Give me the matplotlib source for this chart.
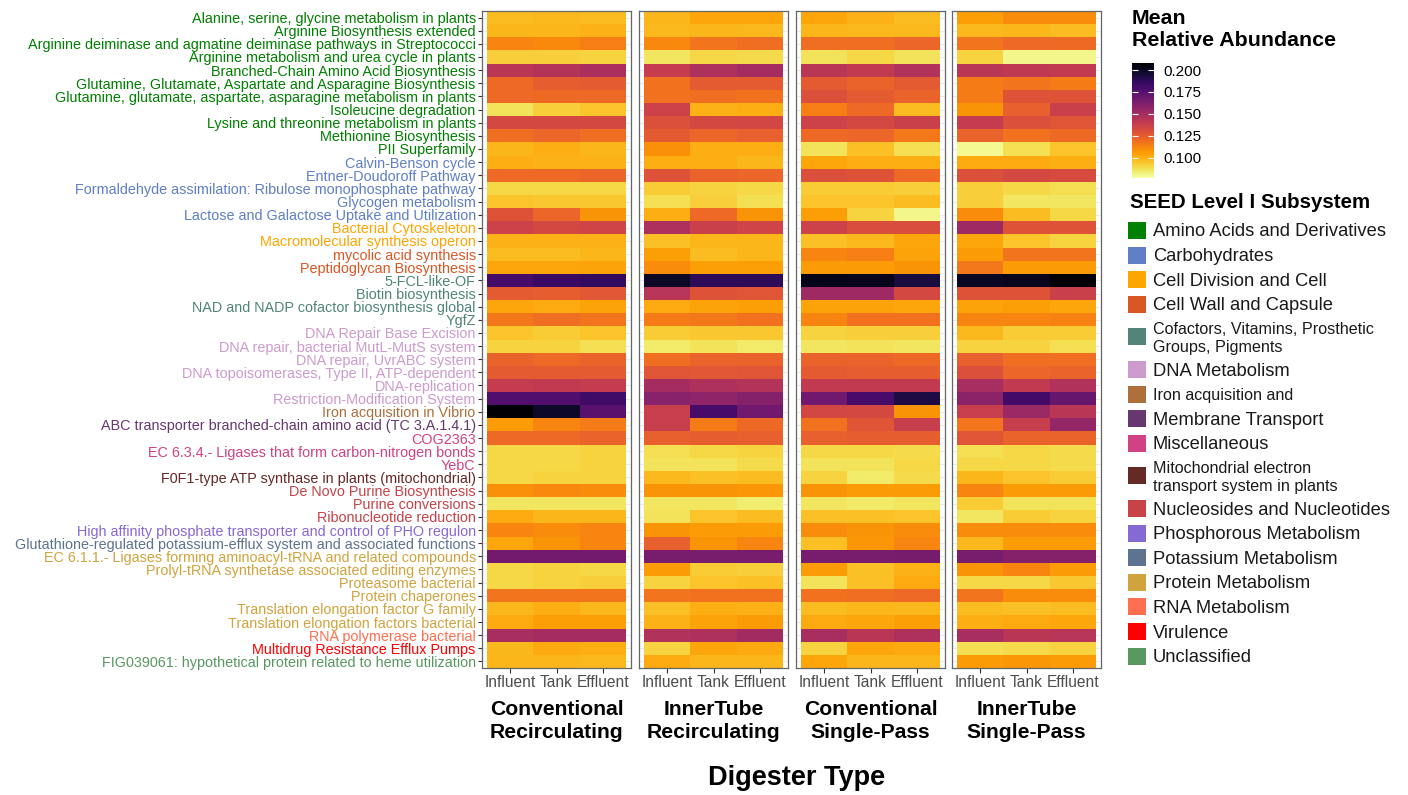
import numpy as np
import matplotlib.pyplot as plt
from matplotlib.patches import Rectangle

plt.rcParams['font.family'] = ['Liberation Sans', 'DejaVu Sans']

# SEED level III pathways, top to bottom
pathways = [
    "Alanine, serine, glycine metabolism in plants",
    "Arginine Biosynthesis extended",
    "Arginine deiminase and agmatine deiminase pathways in Streptococci",
    "Arginine metabolism and urea cycle in plants",
    "Branched-Chain Amino Acid Biosynthesis",
    "Glutamine, Glutamate, Aspartate and Asparagine Biosynthesis",
    "Glutamine, glutamate, aspartate, asparagine metabolism in plants",
    "Isoleucine degradation",
    "Lysine and threonine metabolism in plants",
    "Methionine Biosynthesis",
    "PII Superfamily",
    "Calvin-Benson cycle",
    "Entner-Doudoroff Pathway",
    "Formaldehyde assimilation: Ribulose monophosphate pathway",
    "Glycogen metabolism",
    "Lactose and Galactose Uptake and Utilization",
    "Bacterial Cytoskeleton",
    "Macromolecular synthesis operon",
    "mycolic acid synthesis",
    "Peptidoglycan Biosynthesis",
    "5-FCL-like-OF",
    "Biotin biosynthesis",
    "NAD and NADP cofactor biosynthesis global",
    "YgfZ",
    "DNA Repair Base Excision",
    "DNA repair, bacterial MutL-MutS system",
    "DNA repair, UvrABC system",
    "DNA topoisomerases, Type II, ATP-dependent",
    "DNA-replication",
    "Restriction-Modification System",
    "Iron acquisition in Vibrio",
    "ABC transporter branched-chain amino acid (TC 3.A.1.4.1)",
    "COG2363",
    "EC 6.3.4.- Ligases that form carbon-nitrogen bonds",
    "YebC",
    "F0F1-type ATP synthase in plants (mitochondrial)",
    "De Novo Purine Biosynthesis",
    "Purine conversions",
    "Ribonucleotide reduction",
    "High affinity phosphate transporter and control of PHO regulon",
    "Glutathione-regulated potassium-efflux system and associated functions",
    "EC 6.1.1.- Ligases forming aminoacyl-tRNA and related compounds",
    "Prolyl-tRNA synthetase associated editing enzymes",
    "Proteasome bacterial",
    "Protein chaperones",
    "Translation elongation factor G family",
    "Translation elongation factors bacterial",
    "RNA polymerase bacterial",
    "Multidrug Resistance Efflux Pumps",
    "FIG039061: hypothetical protein related to heme utilization",
]

# level I subsystem of each pathway
pathway_subsystem = (
    ["Amino Acids and Derivatives"] * 11
    + ["Carbohydrates"] * 5
    + ["Cell Division and Cell Cycle"] * 2
    + ["Cell Wall and Capsule"] * 2
    + ["Cofactors"] * 4
    + ["DNA Metabolism"] * 6
    + ["Iron acquisition and metabolism"]
    + ["Membrane Transport"]
    + ["Miscellaneous"] * 3
    + ["Mitochondrial electron transport"]
    + ["Nucleosides and Nucleotides"] * 3
    + ["Phosphorous Metabolism"]
    + ["Potassium Metabolism"]
    + ["Protein Metabolism"] * 6
    + ["RNA Metabolism"]
    + ["Virulence"]
    + ["Unclassified"]
)

subsystems = [
    "Amino Acids and Derivatives", "Carbohydrates", "Cell Division and Cell Cycle",
    "Cell Wall and Capsule", "Cofactors", "DNA Metabolism",
    "Iron acquisition and metabolism", "Membrane Transport", "Miscellaneous",
    "Mitochondrial electron transport", "Nucleosides and Nucleotides",
    "Phosphorous Metabolism", "Potassium Metabolism", "Protein Metabolism",
    "RNA Metabolism", "Virulence", "Unclassified",
]
subsystem_labels = [
    "Amino Acids and Derivatives", "Carbohydrates", "Cell Division and Cell",
    "Cell Wall and Capsule", "Cofactors, Vitamins, Prosthetic\nGroups, Pigments",
    "DNA Metabolism", "Iron acquisition and", "Membrane Transport", "Miscellaneous",
    "Mitochondrial electron\ntransport system in plants", "Nucleosides and Nucleotides",
    "Phosphorous Metabolism", "Potassium Metabolism", "Protein Metabolism",
    "RNA Metabolism", "Virulence", "Unclassified",
]
subsystem_colors = [
    "#008000", "#5F7FC7", "#FFA500", "#DA5724", "#508578", "#CD9BCD",
    "#AD6F3B", "#673770", "#D14285", "#652926", "#C84248", "#8569D5",
    "#5E738F", "#D1A33D", "#FF6F4F", "#FF0000", "#599861",
]

sites = ["Influent", "Tank", "Effluent"]
digesters = ["Conventional\nRecirculating", "InnerTube\nRecirculating",
             "Conventional\nSingle-Pass", "InnerTube\nSingle-Pass"]

# mean relative abundance per pathway: (Influent, Tank, Effluent)
conv_recirc = [
    (0.097, 0.098, 0.097), (0.099, 0.099, 0.100), (0.112, 0.111, 0.114), (0.092, 0.092, 0.091),
    (0.143, 0.145, 0.148), (0.121, 0.125, 0.126), (0.121, 0.120, 0.121), (0.087, 0.092, 0.095),
    (0.133, 0.133, 0.133), (0.119, 0.122, 0.119), (0.099, 0.101, 0.099), (0.101, 0.100, 0.100),
    (0.121, 0.120, 0.122), (0.090, 0.090, 0.090), (0.095, 0.094, 0.094), (0.129, 0.122, 0.108),
    (0.136, 0.133, 0.135), (0.100, 0.100, 0.100), (0.097, 0.097, 0.099), (0.103, 0.103, 0.104),
    (0.180, 0.184, 0.186), (0.126, 0.125, 0.127), (0.103, 0.102, 0.104), (0.116, 0.119, 0.117),
    (0.095, 0.093, 0.095), (0.091, 0.091, 0.088), (0.123, 0.121, 0.123), (0.126, 0.126, 0.126),
    (0.139, 0.140, 0.139), (0.177, 0.177, 0.182), (0.207, 0.198, 0.174), (0.106, 0.112, 0.115),
    (0.121, 0.121, 0.123), (0.090, 0.090, 0.091), (0.090, 0.090, 0.091), (0.090, 0.091, 0.091),
    (0.109, 0.111, 0.110), (0.086, 0.086, 0.086), (0.102, 0.099, 0.099), (0.112, 0.110, 0.112),
    (0.103, 0.108, 0.112), (0.166, 0.166, 0.166), (0.090, 0.091, 0.090), (0.090, 0.091, 0.092),
    (0.117, 0.117, 0.117), (0.098, 0.101, 0.098), (0.102, 0.105, 0.105), (0.149, 0.150, 0.150),
    (0.098, 0.102, 0.101), (0.099, 0.099, 0.098),
]
inner_recirc = [
    (0.099, 0.103, 0.103), (0.098, 0.099, 0.098), (0.111, 0.117, 0.119), (0.086, 0.090, 0.089),
    (0.139, 0.147, 0.150), (0.118, 0.126, 0.126), (0.118, 0.119, 0.118), (0.136, 0.100, 0.101),
    (0.130, 0.133, 0.134), (0.126, 0.122, 0.124), (0.109, 0.101, 0.101), (0.101, 0.101, 0.099),
    (0.129, 0.123, 0.122), (0.093, 0.091, 0.090), (0.088, 0.092, 0.088), (0.101, 0.121, 0.108),
    (0.147, 0.137, 0.135), (0.096, 0.099, 0.099), (0.105, 0.097, 0.099), (0.110, 0.105, 0.105),
    (0.199, 0.188, 0.188), (0.144, 0.129, 0.128), (0.102, 0.104, 0.105), (0.115, 0.116, 0.118),
    (0.093, 0.094, 0.094), (0.085, 0.087, 0.085), (0.119, 0.123, 0.123), (0.128, 0.127, 0.128),
    (0.150, 0.147, 0.145), (0.159, 0.157, 0.160), (0.138, 0.180, 0.167), (0.138, 0.115, 0.121),
    (0.124, 0.125, 0.124), (0.088, 0.090, 0.091), (0.087, 0.087, 0.089), (0.098, 0.096, 0.097),
    (0.108, 0.108, 0.107), (0.086, 0.086, 0.084), (0.087, 0.095, 0.097), (0.108, 0.106, 0.106),
    (0.124, 0.108, 0.112), (0.164, 0.164, 0.164), (0.106, 0.093, 0.092), (0.091, 0.095, 0.096),
    (0.117, 0.118, 0.118), (0.096, 0.101, 0.100), (0.100, 0.104, 0.106), (0.146, 0.147, 0.151),
    (0.091, 0.103, 0.102), (0.102, 0.099, 0.099),
]
conv_single = [
    (0.103, 0.100, 0.097), (0.099, 0.098, 0.098), (0.119, 0.119, 0.122), (0.087, 0.090, 0.087),
    (0.143, 0.140, 0.146), (0.126, 0.123, 0.126), (0.130, 0.126, 0.123), (0.114, 0.121, 0.097),
    (0.136, 0.133, 0.137), (0.121, 0.122, 0.116), (0.087, 0.096, 0.088), (0.103, 0.101, 0.101),
    (0.130, 0.129, 0.121), (0.093, 0.093, 0.092), (0.095, 0.095, 0.097), (0.105, 0.091, 0.081),
    (0.136, 0.131, 0.131), (0.096, 0.098, 0.103), (0.112, 0.114, 0.104), (0.106, 0.106, 0.108),
    (0.202, 0.201, 0.194), (0.152, 0.152, 0.133), (0.104, 0.104, 0.103), (0.112, 0.118, 0.118),
    (0.091, 0.092, 0.092), (0.086, 0.087, 0.086), (0.123, 0.123, 0.121), (0.126, 0.125, 0.125),
    (0.140, 0.140, 0.140), (0.167, 0.180, 0.193), (0.134, 0.133, 0.108), (0.118, 0.128, 0.138),
    (0.124, 0.125, 0.125), (0.090, 0.090, 0.089), (0.087, 0.087, 0.090), (0.091, 0.085, 0.089),
    (0.108, 0.106, 0.106), (0.086, 0.085, 0.086), (0.096, 0.096, 0.095), (0.110, 0.108, 0.110),
    (0.096, 0.107, 0.112), (0.164, 0.164, 0.165), (0.106, 0.096, 0.100), (0.087, 0.096, 0.102),
    (0.118, 0.119, 0.121), (0.097, 0.099, 0.098), (0.102, 0.103, 0.105), (0.149, 0.143, 0.147),
    (0.091, 0.103, 0.102), (0.103, 0.099, 0.099),
]
inner_single = [
    (0.105, 0.110, 0.110), (0.098, 0.099, 0.097), (0.117, 0.121, 0.120), (0.091, 0.081, 0.081),
    (0.143, 0.141, 0.140), (0.115, 0.117, 0.115), (0.115, 0.129, 0.129), (0.108, 0.124, 0.137),
    (0.139, 0.130, 0.128), (0.123, 0.118, 0.120), (0.080, 0.088, 0.095), (0.102, 0.102, 0.101),
    (0.130, 0.133, 0.132), (0.092, 0.090, 0.088), (0.092, 0.086, 0.086), (0.110, 0.097, 0.090),
    (0.152, 0.129, 0.129), (0.103, 0.095, 0.091), (0.106, 0.117, 0.117), (0.116, 0.106, 0.106),
    (0.200, 0.201, 0.207), (0.129, 0.129, 0.137), (0.104, 0.105, 0.103), (0.112, 0.112, 0.113),
    (0.098, 0.093, 0.093), (0.091, 0.091, 0.088), (0.124, 0.119, 0.119), (0.130, 0.122, 0.123),
    (0.149, 0.140, 0.146), (0.158, 0.181, 0.170), (0.138, 0.153, 0.143), (0.117, 0.138, 0.155),
    (0.128, 0.123, 0.123), (0.088, 0.090, 0.089), (0.090, 0.090, 0.089), (0.099, 0.095, 0.093),
    (0.112, 0.106, 0.106), (0.093, 0.087, 0.087), (0.086, 0.093, 0.091), (0.110, 0.110, 0.110),
    (0.098, 0.106, 0.106), (0.164, 0.160, 0.160), (0.108, 0.112, 0.106), (0.090, 0.090, 0.094),
    (0.117, 0.110, 0.110), (0.097, 0.096, 0.097), (0.101, 0.102, 0.103), (0.149, 0.143, 0.144),
    (0.088, 0.089, 0.091), (0.106, 0.107, 0.106),
]

panels = [conv_recirc, inner_recirc, conv_single, inner_single]
color_ticks = [0.100, 0.125, 0.150, 0.175, 0.200]
vmin, vmax = 0.077, 0.208

W, H = 1408, 795
fig = plt.figure(figsize=(W / 100, H / 100), dpi=100)

def fx(px):
    return px / W

def fy(py):
    return 1 - py / H

panel_x = [482, 639, 796, 952]
panel_w, panel_top, panel_bot = 149, 11, 668
n = len(pathways)
label_color = {s: c for s, c in zip(subsystems, subsystem_colors)}

for i, (vals, name) in enumerate(zip(panels, digesters)):
    ax = fig.add_axes([fx(panel_x[i]), fy(panel_bot), fx(panel_w), (panel_bot - panel_top) / H])
    mesh = ax.pcolormesh(np.arange(4) - 0.5, np.arange(n + 1) - 0.5, np.array(vals),
                         cmap='inferno_r', vmin=vmin, vmax=vmax, zorder=2)
    ax.set_xlim(-0.6, 2.6)
    ax.set_ylim(n - 0.5, -0.5)
    ax.set_xticks(range(3))
    ax.set_xticklabels(sites, fontsize=11.2, color='#4D4D4D')
    ax.set_yticks(range(n))
    ax.grid(True, color='#EBEBEB', linewidth=0.8, zorder=0)
    ax.set_axisbelow(True)
    ax.tick_params(axis='x', length=3.5, width=0.8, color='#333333', pad=1.5)
    for sp in ax.spines.values():
        sp.set_color('#666666')
        sp.set_linewidth(0.9)
    if i == 0:
        ax.set_yticklabels(pathways, fontsize=10.4)
        for lab, sub in zip(ax.get_yticklabels(), pathway_subsystem):
            lab.set_color(label_color[sub])
        ax.tick_params(axis='y', length=3, width=0.8, color='#333333', pad=1.5)
    else:
        ax.tick_params(axis='y', left=False, labelleft=False)
    fig.text(fx(panel_x[i] + panel_w / 2), fy(721), name, ha='center', va='center',
             fontsize=15.2, fontweight='bold', linespacing=1.25)

fig.text(fx(797), fy(778), "Digester Type", ha='center', va='center',
         fontsize=19.5, fontweight='bold')

# colour bar
cax = fig.add_axes([fx(1132), fy(178), fx(22), 115 / H])
cb = fig.colorbar(mesh, cax=cax, ticks=color_ticks)
cb.outline.set_visible(False)
cax.yaxis.set_ticks_position('both')
cax.tick_params(axis='y', direction='in', color='white', length=4.5, width=0.8,
                labelsize=11, pad=6.5, labelleft=False, labelright=True)
cax.set_yticklabels([f"{t:.3f}" for t in color_ticks])
fig.text(fx(1132), fy(30), "Mean\nRelative Abundance", ha='left', va='center',
         fontsize=15.4, fontweight='bold')

# subsystem legend
fig.text(fx(1130), fy(202), "SEED Level I Subsystem", ha='left', va='center',
         fontsize=14.8, fontweight='bold')
y = 230.5
for k, (lab, col) in enumerate(zip(subsystem_labels, subsystem_colors)):
    two_line = "\n" in lab
    if two_line:
        y += 8
    fig.patches.append(Rectangle((fx(1128), fy(y + 8.5)), fx(18), 17 / H,
                                 transform=fig.transFigure, facecolor=col, edgecolor='none'))
    small = two_line or lab.startswith("Iron")
    fig.text(fx(1153), fy(y + 1.5), lab, ha='left', va='center',
             fontsize=11.6 if small else 13.2, linespacing=1.2, color='#1A1A1A')
    y += 24.6 + (8 if two_line else 0)

fig.savefig("out.png", dpi=100)
